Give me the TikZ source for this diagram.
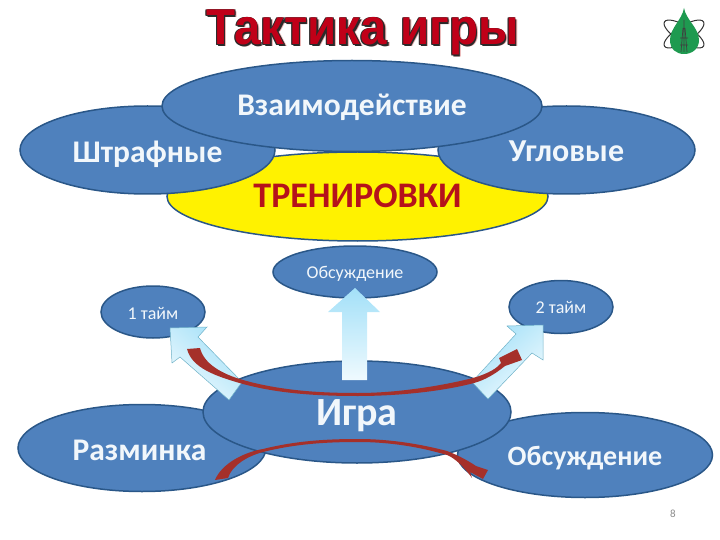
\documentclass[tikz,border=0pt]{standalone}
\usepackage{fontspec}
\setmainfont{Carlito}
\newfontfamily\titlefont{Liberation Sans}
\usetikzlibrary{shapes.geometric}
\definecolor{ellfill}{HTML}{4F81BD}
\definecolor{ellline}{HTML}{2A5788}
\definecolor{txtc}{HTML}{F2F7FB}
\definecolor{redc}{HTML}{A5302A}
\definecolor{trainred}{HTML}{B5121B}
\definecolor{arrowtop}{HTML}{A3E0F8}
\definecolor{arrowbot}{HTML}{EFFAFE}
\definecolor{arrowline}{HTML}{6FB2C8}
\definecolor{titlered}{HTML}{C00018}
\definecolor{titledark}{HTML}{2A2A2A}
\definecolor{titlepink}{HTML}{E8B0B0}
\definecolor{logogreen}{HTML}{1E9A50}
\newcommand{\lowered}[2]{\raisebox{-#1pt}[0pt][0pt]{#2}}
\tikzset{
  blob/.style={ellipse,draw=ellline,line width=1.5pt,fill=ellfill,inner sep=0pt,text=txtc,align=center},
  blockarrow/.style={draw=arrowline,line width=0.5pt,top color=arrowtop,bottom color=arrowbot},
  swoosh/.style={fill=redc,draw=none},
  titletext/.style={font=\titlefont\bfseries\fontsize{47.5}{50}\selectfont,inner sep=0pt,anchor=base,yscale=1.06}
}
\begin{document}
\begin{tikzpicture}[x=1pt,y=-1pt]
\useasboundingbox (0,0) rectangle (720,540);
% title
\foreach \dx/\dy/\c/\n in {2.5/1.5/titlepink/a,1.6/1.6/titledark/b,-0.8/-0.8/titledark/d,0.8/-0.8/titledark/e,-0.8/0.8/titledark/f}{
  \node[titletext,text=\c] (title\n) at (362.5+\dx,45+\dy) {Тактика игры};
}
\node[titletext,text=titlered] (title) at (362.5,45) {Тактика игры};
% logo
\draw[line width=1pt,black!80] (684,34) ellipse [x radius=23,y radius=8,rotate=32];
\draw[line width=1pt,black!80] (684,34) ellipse [x radius=23,y radius=8,rotate=-32];
\fill[logogreen] (684,8) .. controls (686,20) and (699,28) .. (699,40) .. controls (699,49) and (692,54) .. (684,54) .. controls (676,54) and (670,49) .. (670,40) .. controls (670,28) and (682,20) .. (684,8) -- cycle;
\draw[line width=0.7pt,black!75] (684,20) -- (684,52) (681,52) -- (683,28) (687,52) -- (685,28) (680,38) -- (688,38) (680,45) -- (688,45);
% top group
\node[blob,fill=yellow,minimum width=381pt,minimum height=89pt,text=trainred,font=\bfseries\fontsize{36}{38}\selectfont] (trening) at (357.5,196.5) {\lowered{11.5}{ТРЕНИРОВКИ}};
\node[blob,minimum width=255pt,minimum height=88pt,font=\bfseries\fontsize{31.5}{34}\selectfont] (shtraf) at (147.5,150) {\lowered{13}{Штрафные}};
\node[blob,minimum width=257pt,minimum height=88pt,font=\bfseries\fontsize{32}{34}\selectfont] (ugl) at (566.5,150) {\lowered{12}{Угловые}};
\node[blob,minimum width=380pt,minimum height=91pt,font=\bfseries\fontsize{31.5}{34}\selectfont] (vzaim) at (352,106) {\lowered{10}{Взаимодействие}};
% middle
\node[blob,minimum width=164pt,minimum height=52pt,font=\fontsize{18}{20}\selectfont] (obs1) at (355,272) {\lowered{6}{Обсуждение}};
\node[blob,minimum width=104pt,minimum height=52pt,font=\fontsize{18}{20}\selectfont] (t1) at (153,312) {\lowered{7}{1 тайм}};
\node[blob,minimum width=104pt,minimum height=53pt,font=\fontsize{18}{20}\selectfont] (t2) at (561,307) {\lowered{6}{2 тайм}};
% bottom
\node[blob,minimum width=248pt,minimum height=87pt,font=\bfseries\fontsize{31.5}{34}\selectfont] (razm) at (142,448) {\lowered{12}{Разминка\hspace*{5pt}}};
\node[blob,minimum width=255pt,minimum height=85pt,font=\bfseries\fontsize{28}{32}\selectfont] (obs2) at (585,455) {\lowered{10}{Обсуждение}};
\node[blob,minimum width=308pt,minimum height=102pt,font=\bfseries\fontsize{40}{42}\selectfont] (igra) at (357,412) {\lowered{13}{Игра}};
% block arrows
\path[blockarrow,draw=none] (355,288) -- (380,312) -- (367,312) -- (367,380) -- (342,380) -- (342,312) -- (328,312) -- cycle;
\path[blockarrow,shading angle=-40] (170,328) -- (207,327) -- (198,337) -- (242,382) -- (229,400) -- (180,357) -- (172,363) -- cycle;
\path[blockarrow,shading angle=40] (543,325) -- (543,360) -- (532,353) -- (488,399) -- (472,382) -- (516,334) -- (507,326) -- cycle;
% swooshes
\fill[swoosh] (187,349) -- (200,348) .. controls (204,364) and (222,374) .. (243,380)
  .. controls (285,392) and (330,393) .. (358,393)
  .. controls (400,393) and (445,385) .. (473,378)
  .. controls (490,373) and (497,368) .. (501,363) -- (499,358) -- (517,349) -- (522,360) -- (505,366)
  .. controls (495,374) and (485,380) .. (474,383)
  .. controls (440,392) and (395,396) .. (358,396)
  .. controls (320,396) and (280,394) .. (243,384)
  .. controls (215,376) and (192,368) .. (187,349) -- cycle;
\fill[swoosh] (215,480) .. controls (222,463) and (245,452) .. (263,449)
  .. controls (295,441) and (325,439) .. (358,439)
  .. controls (390,439) and (420,444) .. (447,451)
  .. controls (460,456) and (470,462) .. (476,466) -- (488,470) -- (483,479) -- (470,472) -- (472,478)
  .. controls (465,468) and (455,458) .. (447,455)
  .. controls (420,447) and (390,442) .. (358,442)
  .. controls (325,442) and (295,444) .. (263,452)
  .. controls (248,456) and (232,465) .. (228,478) -- cycle;
% page number
\node[text=black!45,font=\fontsize{11}{13}\selectfont,inner sep=0pt] (pagenum) at (673,514) {8};
\end{tikzpicture}
\end{document}
